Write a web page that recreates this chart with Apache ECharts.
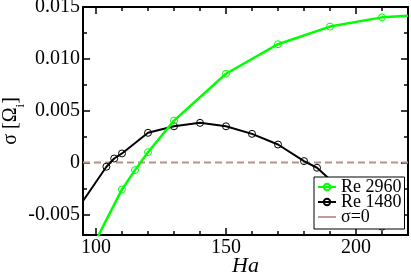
<!DOCTYPE html>
<html>
<head>
<meta charset="utf-8">
<script src="https://cdn.jsdelivr.net/npm/echarts@6/dist/echarts.min.js"></script>
<style>html,body{margin:0;padding:0;background:#fff}#c{width:411px;height:273px}</style>
</head>
<body>
<div id="c"></div>
<script>
// Data
const re2960Ha = [100, 110, 115, 120, 130, 150, 170, 190, 210, 220];
const re2960Sigma = [-0.0075, -0.0026, -0.00074, 0.00099, 0.00404, 0.00856, 0.01141, 0.01311, 0.0140, 0.01415];
const re1480Ha = [95, 104, 107, 110, 120, 130, 140, 150, 160, 170, 180, 185, 210];
const re1480Sigma = [-0.00372, -0.00041, 0.00038, 0.00087, 0.00286, 0.00349, 0.00382, 0.00349, 0.00276, 0.00173, 0.00013, -0.00051, -0.0062];
const zeroHa = [95, 220];
const zeroSigma = [0, 0];
const xMajorTicks = [100, 150, 200];
const xMinorTicks = [100, 110, 120, 130, 140, 150, 160, 170, 180, 190, 200, 210, 220];
const yMajorTicks = [-0.005, 0, 0.005, 0.010, 0.015];
const yMinorTicks = [-0.0025, 0.0025, 0.0075, 0.0125];
const seriesNames = ['Re 2960', 'Re 1480', 'σ=0'];

const font = 'Liberation Serif, Times New Roman, serif';
// points at the plot edges (line continuation only) carry no marker
const pair = (xs, ys) => xs.map((x, i) => {
  const edge = x <= 95 || x >= 220;
  return edge ? {value: [x, ys[i]], symbol: 'none'} : [x, ys[i]];
});

function xAx(pos, ticks, len, showLine, showLabel) {
  return {
    type: 'value', position: pos, min: 95, max: 220,
    axisLine: {show: showLine, onZero: false, lineStyle: {color: '#000', width: 2}},
    axisTick: {show: true, inside: true, length: len, customValues: ticks, lineStyle: {color: '#000', width: 1.5}},
    axisLabel: {show: showLabel, customValues: xMajorTicks, fontFamily: font, fontSize: 20, color: '#000', margin: 3},
    splitLine: {show: false}
  };
}
function yAx(pos, ticks, len, showLine, showLabel) {
  return {
    type: 'value', position: pos, min: -0.007, max: 0.015,
    axisLine: {show: showLine, onZero: false, lineStyle: {color: '#000', width: 2}},
    axisTick: {show: true, inside: true, length: len, customValues: ticks, lineStyle: {color: '#000', width: 1.5}},
    axisLabel: {show: showLabel, customValues: yMajorTicks, fontFamily: font, fontSize: 20, color: '#000', margin: 3,
      formatter: v => Math.abs(v) < 1e-9 ? '0' : v.toFixed(3)},
    splitLine: {show: false}
  };
}

const xAxes = [
  xAx('bottom', xMajorTicks, 7, true, true),
  xAx('bottom', xMinorTicks, 4, false, false),
  xAx('top', xMajorTicks, 7, true, false),
  xAx('top', xMinorTicks, 4, false, false)
];
Object.assign(xAxes[0], {name: 'Ha', nameLocation: 'middle', nameGap: 20, nameMoveOverlap: false,
  nameTextStyle: {fontFamily: font, fontStyle: 'italic', fontSize: 22, color: '#000'}});
const yAxes = [
  yAx('left', yMajorTicks, 7, true, true),
  yAx('left', yMinorTicks, 4, false, false),
  yAx('right', yMajorTicks, 7, true, false),
  yAx('right', yMinorTicks, 4, false, false)
];
Object.assign(yAxes[0], {name: '{a|σ [Ω}{s|i}{a|]}', nameLocation: 'middle', nameGap: 62, nameRotate: 90,
  nameMoveOverlap: false,
  nameTextStyle: {rich: {
    a: {fontFamily: font, fontSize: 20, color: '#000'},
    s: {fontFamily: font, fontSize: 13, color: '#000', verticalAlign: 'bottom', padding: [0, 0, -6, 0]}
  }}});

const chart = echarts.init(document.getElementById('c'), null, {renderer: 'canvas'});
chart.setOption({
  animation: false,
  backgroundColor: '#fff',
  grid: {left: 83, top: 7, right: 3, bottom: 38, outerBoundsMode: 'none', containLabel: false},
  xAxis: xAxes,
  yAxis: yAxes,
  legend: {
    data: [seriesNames[0], seriesNames[1], {name: seriesNames[2], icon: 'path://M0,0H20V2H0Z'}],
    orient: 'vertical', left: 314, top: 177,
    backgroundColor: '#fff', borderColor: '#000', borderWidth: 1,
    padding: [1, 3, 3, 3], itemGap: -3, itemWidth: 18, itemHeight: 8,
    textStyle: {fontFamily: font, fontSize: 18, color: '#000', lineHeight: 16}
  },
  series: [
    {name: seriesNames[2], type: 'line', data: pair(zeroHa, zeroSigma), symbol: 'none',
      lineStyle: {color: '#bc8f8f', width: 2, type: [7, 4]}, itemStyle: {color: '#bc8f8f'}, z: 1},
    {name: seriesNames[1], type: 'line', data: pair(re1480Ha, re1480Sigma), symbol: 'circle', symbolSize: 7,
      lineStyle: {color: '#000', width: 2},
      itemStyle: {color: 'rgba(0,0,0,0)', borderColor: '#000', borderWidth: 1}, z: 2},
    {name: seriesNames[0], type: 'line', data: pair(re2960Ha, re2960Sigma), symbol: 'circle', symbolSize: 7,
      lineStyle: {color: '#00ff00', width: 2.5},
      itemStyle: {color: 'rgba(0,0,0,0)', borderColor: '#00ff00', borderWidth: 1}, z: 3}
  ]
});
</script>
</body>
</html>
